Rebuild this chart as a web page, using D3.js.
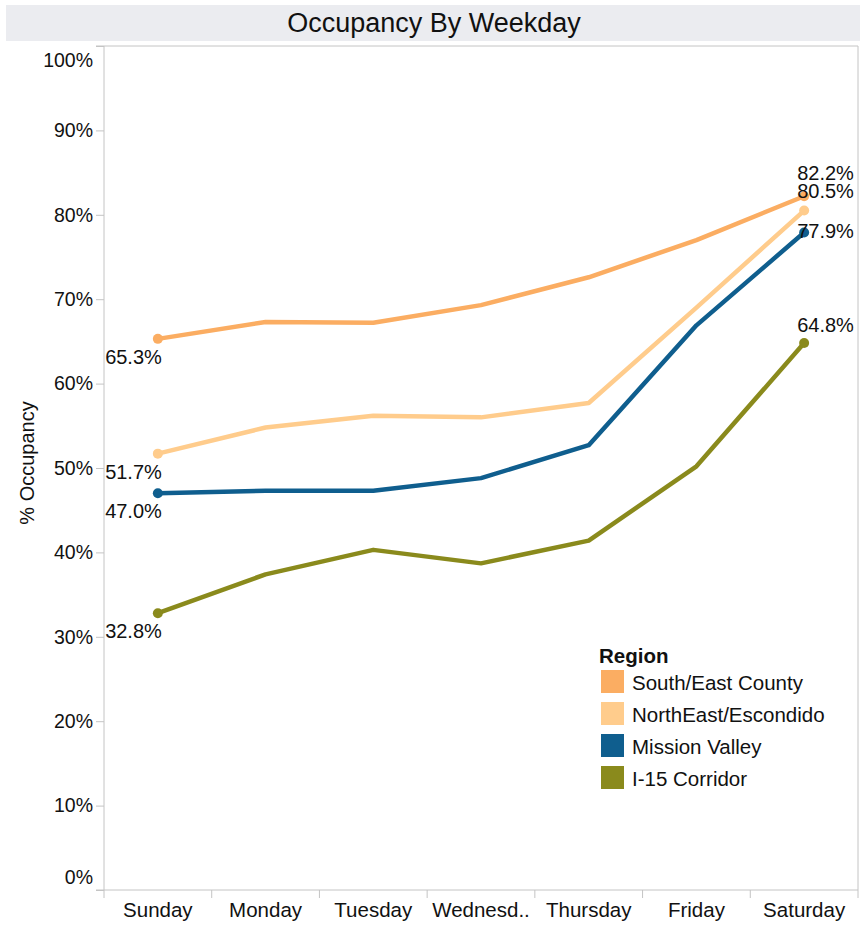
<!DOCTYPE html>
<html>
<head>
<meta charset="utf-8">
<script src="https://cdn.jsdelivr.net/npm/d3@7"></script>
<style>
  html, body { margin: 0; padding: 0; background: #fff; }
  svg { display: block; font-family: "Liberation Sans", Arial, sans-serif; }
</style>
</head>
<body>
<svg id="chart" width="866" height="925"></svg>
<script>
// ---- Data ----
const days = ["Sunday", "Monday", "Tuesday", "Wednesday", "Thursday", "Friday", "Saturday"];
const dayLabels = ["Sunday", "Monday", "Tuesday", "Wednesd..", "Thursday", "Friday", "Saturday"];
const regions = ["South/East County", "NorthEast/Escondido", "Mission Valley", "I-15 Corridor"];
const southEast = [0.653, 0.673, 0.672, 0.693, 0.726, 0.770, 0.822];
const northEast = [0.517, 0.548, 0.562, 0.560, 0.577, 0.690, 0.805];
const missionValley = [0.470, 0.473, 0.473, 0.488, 0.527, 0.669, 0.779];
const i15 = [0.328, 0.374, 0.403, 0.387, 0.414, 0.502, 0.648];
const yTicks = [0, 0.1, 0.2, 0.3, 0.4, 0.5, 0.6, 0.7, 0.8, 0.9, 1.0];
const colors = ["#fbad62", "#ffcc8c", "#0f5e8e", "#8a8a1c"];

const seriesValues = [southEast, northEast, missionValley, i15];
const series = regions.map((r, i) => ({
  name: r, color: colors[i],
  values: days.map((d, j) => ({ day: d, v: seriesValues[i][j] }))
}));

// ---- Layout ----
const svg = d3.select("#chart");
const pLeft = 104, pRight = 858, pTop = 46, pBottom = 890;
const fontSize = 19.5;
const axisColor = "#c4c4c4";

// Title bar
svg.append("rect").attr("x", 6).attr("y", 5).attr("width", 854).attr("height", 36)
  .attr("fill", "#ebecf0");
svg.append("text").attr("x", 434).attr("y", 23).attr("text-anchor", "middle")
  .attr("dominant-baseline", "central").attr("font-size", 27).attr("fill", "#111")
  .text("Occupancy By Weekday");

const x = d3.scaleBand().domain(days).range([pLeft, pRight]).padding(0);
const y = d3.scaleLinear().domain([0, 1]).range([pBottom, pTop]);

// Plot border (top & right)
svg.append("line").attr("x1", pLeft).attr("x2", pRight).attr("y1", pTop).attr("y2", pTop)
  .attr("stroke", axisColor).attr("stroke-width", 1);
svg.append("line").attr("x1", pRight).attr("x2", pRight).attr("y1", pTop).attr("y2", pBottom)
  .attr("stroke", axisColor).attr("stroke-width", 1);

// Y axis
const yAxis = d3.axisLeft(y).tickValues(yTicks).tickFormat(d3.format(".0%")).tickSize(8).tickPadding(3);
const yg = svg.append("g").attr("transform", `translate(${pLeft},0)`).call(yAxis);
yg.select(".domain").attr("stroke", axisColor).attr("d", `M-8,${pTop}H0V${pBottom}`);
yg.selectAll(".tick line").attr("stroke", axisColor);
yg.selectAll(".tick text").attr("font-size", fontSize).attr("fill", "#111")
  .attr("font-family", "Liberation Sans, Arial, sans-serif")
  .attr("dy", d => d === 1 ? "1.05em" : (d === 0 ? "-0.35em" : "0.32em"));

// Y axis title
svg.append("text").attr("transform", `translate(27,${(pTop + pBottom) / 2 - 5}) rotate(-90)`)
  .attr("text-anchor", "middle").attr("dominant-baseline", "central")
  .attr("font-size", 20).attr("fill", "#111").text("% Occupancy");

// X axis
const xAxis = d3.axisBottom(x).tickSize(0).tickPadding(12)
  .tickFormat((d, i) => dayLabels[i]);
const xg = svg.append("g").attr("transform", `translate(0,${pBottom})`).call(xAxis);
xg.select(".domain").attr("stroke", axisColor).attr("d", `M${pLeft - 8},0H${pRight}`);
xg.selectAll(".tick text").attr("font-size", 20.5).attr("fill", "#111")
  .attr("font-family", "Liberation Sans, Arial, sans-serif");
// band boundary ticks
const edges = days.map(d => x(d)).concat([x(days[days.length - 1]) + x.bandwidth()]);
xg.selectAll(".edge").data(edges).enter().append("line").attr("class", "edge")
  .attr("x1", d => d).attr("x2", d => d).attr("y1", 0).attr("y2", 8)
  .attr("stroke", axisColor);

// Lines
const cx = d => x(d.day) + x.bandwidth() / 2;
const line = d3.line().x(cx).y(d => y(d.v));
const g = svg.append("g");
series.forEach(s => {
  g.append("path").datum(s.values).attr("d", line).attr("fill", "none")
    .attr("stroke", s.color).attr("stroke-width", 4.5).attr("stroke-linejoin", "round");
});
// End points
series.forEach(s => {
  const ends = [s.values[0], s.values[s.values.length - 1]];
  g.selectAll(null).data(ends).enter().append("circle")
    .attr("cx", cx).attr("cy", d => y(d.v)).attr("r", 5).attr("fill", s.color);
});

// Labels
const fmt = d3.format(".1%");
const endDy = [-23, -20, -2, -18];
series.forEach((s, i) => {
  const f = s.values[0];
  svg.append("text").attr("x", cx(f) + 4).attr("y", y(f.v) + 18)
    .attr("text-anchor", "end").attr("dominant-baseline", "central")
    .attr("font-size", 20).attr("fill", "#111").text(fmt(f.v));
  const l = s.values[s.values.length - 1];
  svg.append("text").attr("x", cx(l) - 7).attr("y", y(l.v) + endDy[i])
    .attr("text-anchor", "start").attr("dominant-baseline", "central")
    .attr("font-size", 20).attr("fill", "#111").text(fmt(l.v));
});

// Legend
const lg = svg.append("g").attr("transform", "translate(599,655)");
lg.append("text").attr("x", 0).attr("y", 0).attr("dominant-baseline", "central")
  .attr("font-size", 20.5).attr("font-weight", "bold").attr("fill", "#111").text("Region");
regions.forEach((r, i) => {
  lg.append("rect").attr("x", 2).attr("y", 15 + i * 32).attr("width", 23).attr("height", 23)
    .attr("fill", colors[i]);
  lg.append("text").attr("x", 33).attr("y", 27 + i * 32).attr("dominant-baseline", "central")
    .attr("font-size", 20.5).attr("fill", "#111").text(r);
});
</script>
</body>
</html>
